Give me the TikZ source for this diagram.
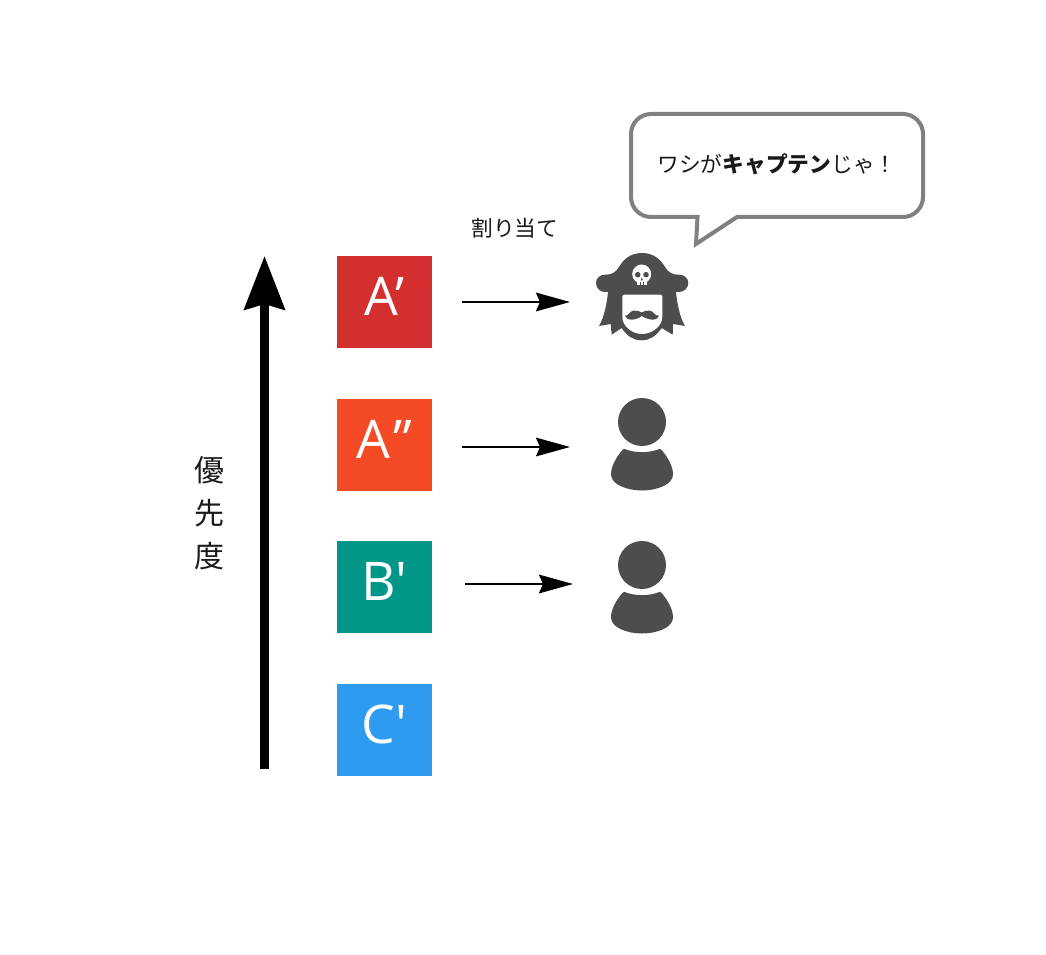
\documentclass[tikz,border=0pt]{standalone}
\usepackage{fontspec}
\setmainfont{Open Sans}
\newfontfamily\slotfont{Open Sans}
\newfontfamily\jpfont{Noto Sans CJK JP}
\usetikzlibrary{arrows.meta}
\tikzset{
  slot/.style={minimum width=71.25pt,minimum height=69pt,inner sep=0pt,text=white,text height=20.5pt,text depth=0pt,font=\slotfont\fontsize{40}{40}\selectfont},
  thinarrow/.style={line width=1.5pt,-{Stealth[length=25.5pt,width=14pt,inset=3pt]}},
  person/.pic={
    \fill [iconcol] (0,-0.5) circle (24);
    \fill [iconcol] (-20,28) .. controls (-19,26) and (-17,26) .. (-16,27)
      .. controls (-7,30.5) and (7,30.5) .. (16,27)
      .. controls (17,26) and (19,26) .. (20,28)
      .. controls (26,35) and (31,44) .. (31,52)
      .. controls (31,62) and (15,68) .. (0,68)
      .. controls (-15,68) and (-31,62) .. (-31,52)
      .. controls (-31,44) and (-26,35) .. (-20,28) -- cycle;
  }
}
\definecolor{iconcol}{HTML}{4D4D4D}
\definecolor{slotA}{HTML}{D32F2F}
\definecolor{slotAA}{HTML}{F44A25}
\definecolor{slotB}{HTML}{009688}
\definecolor{slotC}{HTML}{2E9BF1}
\definecolor{inktext}{HTML}{1A1A1A}
\begin{document}
\begin{tikzpicture}[x=0.75pt,y=-0.75pt]
\useasboundingbox (0,0) rectangle (1046,955);
% priority scale
\path (264.5,769) coordinate (low);
\path (264.5,256) coordinate (high);
\draw [line width=6.75pt,-{Stealth[length=40pt,width=30pt,inset=4pt]}] (low) -- (high);
\path (209,513) node (prio) [align=center,inner sep=0pt,text=inktext,font=\jpfont\fontsize{22.5}{32.25}\selectfont] {優\\先\\度};
% slots
\path (384.5,302) node (aone)   [slot,fill=slotA]  {A’};
\path (384.5,445) node (atwo)   [slot,fill=slotAA] {A\kern2.5pt”};
\path (384.5,587) node (bone)   [slot,fill=slotB]  {B'};
\path (384.5,730) node (cone)   [slot,fill=slotC]  {C'};
% assignment
\path (514.8,228) node (assign) [inner sep=0pt,text=inktext,font=\jpfont\fontsize{16.3}{16.3}\selectfont] {割り当て};
\path (462,302) coordinate (afrom);
\path (570,302) coordinate (ato);
\path (462,447) coordinate (aafrom);
\path (570,447) coordinate (aato);
\path (465,584) coordinate (bfrom);
\path (573,584) coordinate (bto);
\draw [thinarrow] (afrom) -- (ato);
\draw [thinarrow] (aafrom) -- (aato);
\draw [thinarrow] (bfrom) -- (bto);
% crew
\path (642,422.5) pic {person};
\path (642,565.5) pic {person};
% captain
\fill [iconcol] (605,292) .. controls (600,292) and (596,288) .. (596,283)
  .. controls (596,278) and (600,274.7) .. (605,274.7)
  .. controls (612,275) and (616,272) .. (619,267)
  .. controls (623,260) and (630,253) .. (642,253)
  .. controls (654,253) and (661,260) .. (665,267)
  .. controls (668,272) and (672,275) .. (679,274.7)
  .. controls (684,274.7) and (688.3,278) .. (688.3,283)
  .. controls (688.3,288) and (684,292) .. (679,292)
  -- (676,292) .. controls (677,303) and (680,318) .. (685,326)
  -- (673,324) -- (672.7,334.7) -- (661.7,328)
  .. controls (656,336) and (650,340.3) .. (641.7,340.3)
  .. controls (633,340.3) and (627,336) .. (621.7,328)
  -- (611.7,334.7) -- (610.7,324) -- (599,326)
  .. controls (604,318) and (607,303) .. (608,292) -- cycle;
\fill [white] (622.3,296) .. controls (622.3,295) and (623,294.7) .. (624,294.7)
  -- (660.5,294.7) .. controls (661.5,294.7) and (662.3,295) .. (662.3,296)
  -- (662.3,317) .. controls (662.3,326) and (652,334) .. (642,334)
  .. controls (632,334) and (622.3,326) .. (622.3,317) -- cycle;
\fill [iconcol] (625,315.7) .. controls (628,316.5) and (630,310.7) .. (633.3,310.7)
  .. controls (637,310.7) and (640,311) .. (641.7,312.5)
  .. controls (643,311) and (646,310.7) .. (650,310.7)
  .. controls (653,310.7) and (655,316.5) .. (659,315.7)
  .. controls (657,319) and (655,320) .. (652.7,319.7)
  .. controls (648,319.5) and (644,317.5) .. (641.7,316)
  .. controls (640,317.5) and (636,319.5) .. (631.7,319.7)
  .. controls (629,320) and (627,319) .. (625,315.7) -- cycle;
\fill [white] (641.7,274) circle (9.5);
\fill [white] (636.7,279) rectangle (647,285.5);
\fill [iconcol] (637.7,274.7) circle (2.8);
\fill [iconcol] (646,274.7) circle (2.8);
\fill [iconcol] (640.6,280.5) -- (641.8,277.5) -- (643,280.5) -- cycle;
\fill [iconcol] (639.6,282.5) rectangle (640.2,285.5);
\fill [iconcol] (643.2,282.5) rectangle (643.8,285.5);
% speech bubble
\draw [line width=3pt,draw=gray,fill=white,line join=miter]
  (697.5,217) -- (696,244) -- (737,217) -- (903,217)
  .. controls (914,217) and (923,208) .. (923,197) -- (923,134)
  .. controls (923,123) and (914,114) .. (903,114) -- (651,114)
  .. controls (640,114) and (631,123) .. (631,134) -- (631,197)
  .. controls (631,208) and (640,217) .. (651,217) -- cycle;
\path (777,164) node (said) [inner sep=0pt,text=inktext,font=\jpfont\fontsize{16.3}{16.3}\selectfont] {ワシが\textbf{キャプテン}じゃ！};
\end{tikzpicture}
\end{document}
